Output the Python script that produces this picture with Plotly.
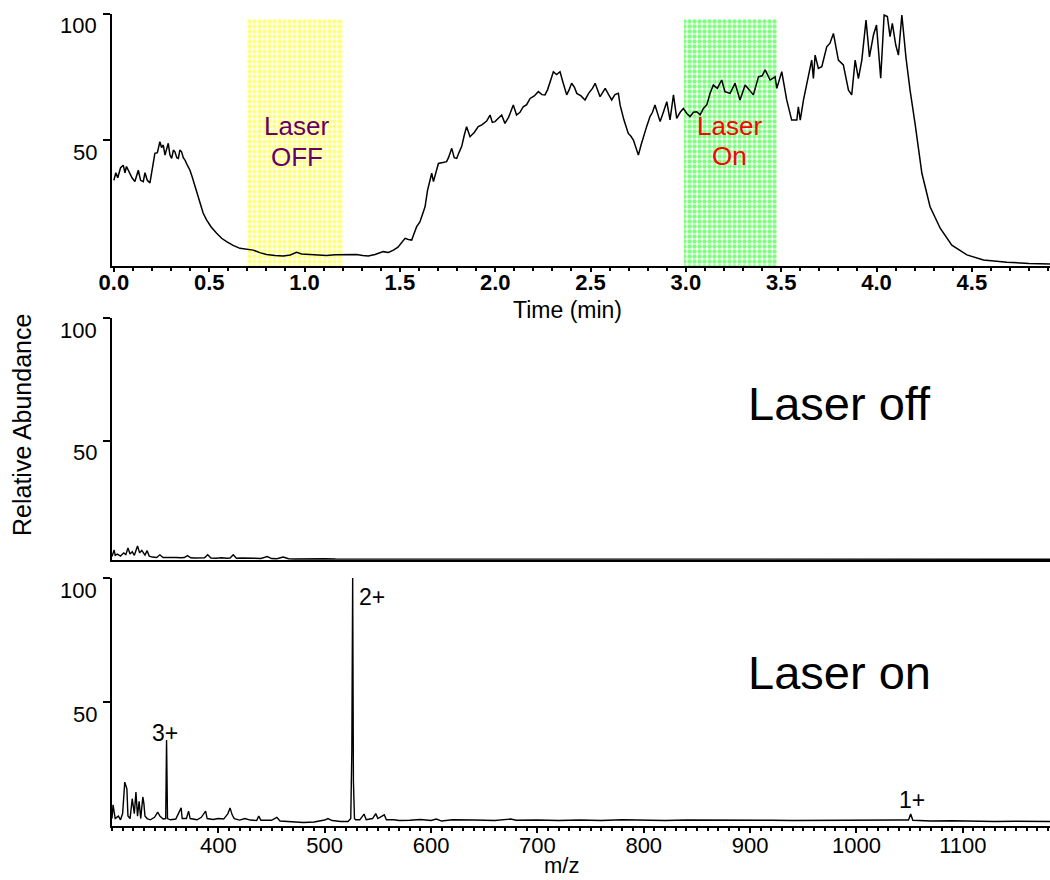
import plotly.graph_objects as go

# ---------------- data ----------------
time_min = [0.000, 0.010, 0.020, 0.035, 0.049, 0.058, 0.066, 0.080, 0.095, 0.110, 0.120, 0.128, 0.140,
            0.154, 0.163, 0.175, 0.189, 0.200, 0.215, 0.228, 0.241, 0.250, 0.259, 0.268, 0.276, 0.285,
            0.294, 0.303, 0.312, 0.320, 0.330, 0.338, 0.346, 0.355, 0.364, 0.373, 0.385, 0.399, 0.412,
            0.425, 0.438, 0.451, 0.468, 0.486, 0.510, 0.539, 0.565, 0.591, 0.625, 0.661, 0.700, 0.731,
            0.765, 0.801, 0.845, 0.888, 0.925, 0.945, 0.958, 0.985, 1.030, 1.070, 1.116, 1.160, 1.203,
            1.240, 1.273, 1.305, 1.334, 1.370, 1.395, 1.413, 1.440, 1.466, 1.490, 1.510, 1.527, 1.545,
            1.562, 1.575, 1.588, 1.605, 1.620, 1.632, 1.645, 1.658, 1.667, 1.676, 1.690, 1.702, 1.720,
            1.745, 1.755, 1.772, 1.785, 1.798, 1.810, 1.824, 1.838, 1.850, 1.868, 1.890, 1.911, 1.930,
            1.955, 1.973, 1.985, 1.999, 2.015, 2.034, 2.051, 2.070, 2.095, 2.112, 2.130, 2.147, 2.165,
            2.183, 2.205, 2.226, 2.245, 2.261, 2.275, 2.288, 2.305, 2.322, 2.340, 2.355, 2.375, 2.388,
            2.401, 2.415, 2.428, 2.450, 2.471, 2.490, 2.510, 2.524, 2.537, 2.550, 2.565, 2.577, 2.595,
            2.611, 2.628, 2.646, 2.655, 2.675, 2.698, 2.712, 2.725, 2.740, 2.751, 2.765, 2.777, 2.795,
            2.812, 2.825, 2.838, 2.852, 2.865, 2.882, 2.900, 2.917, 2.935, 2.952, 2.970, 2.987, 3.005,
            3.022, 3.040, 3.057, 3.075, 3.092, 3.110, 3.127, 3.144, 3.165, 3.188, 3.205, 3.232, 3.258,
            3.284, 3.311, 3.330, 3.354, 3.381, 3.400, 3.416, 3.442, 3.468, 3.477, 3.503, 3.529, 3.555,
            3.582, 3.590, 3.600, 3.617, 3.637, 3.660, 3.669, 3.678, 3.695, 3.713, 3.739, 3.756, 3.774,
            3.800, 3.826, 3.853, 3.870, 3.888, 3.905, 3.923, 3.945, 3.963, 3.984, 4.000, 4.022, 4.040,
            4.057, 4.071, 4.083, 4.101, 4.115, 4.133, 4.155, 4.176, 4.202, 4.238, 4.281, 4.334, 4.395,
            4.474, 4.561, 4.684, 4.800, 4.910]
tic = [34.0, 37.0, 35.0, 39.0, 40.0, 37.0, 39.5, 37.0, 35.0, 33.5, 36.0, 38.0, 34.0,
       33.5, 37.0, 34.0, 33.0, 38.0, 44.7, 45.0, 49.3, 47.0, 48.0, 44.0, 46.0, 48.7,
       44.0, 42.7, 46.0, 45.3, 43.0, 42.7, 46.0, 45.3, 43.0, 42.0, 40.0, 38.0, 35.0,
       31.5, 28.0, 24.9, 21.0, 18.3, 15.5, 13.0, 11.0, 9.7, 8.2, 7.0, 6.5, 6.3,
       5.3, 4.6, 4.2, 4.0, 4.4, 4.9, 5.4, 4.8, 4.6, 4.4, 4.2, 4.5, 4.6,
       4.8, 4.6, 4.2, 4.0, 4.6, 5.2, 5.7, 5.4, 6.3, 7.5, 9.5, 11.0, 10.5,
       10.3, 13.0, 15.6, 17.5, 21.0, 23.5, 30.0, 34.0, 36.8, 33.5, 37.0, 40.7, 41.0,
       41.4, 43.0, 46.7, 43.0, 42.7, 45.0, 47.4, 52.0, 55.3, 51.3, 53.0, 55.3, 56.0,
       57.5, 59.9, 57.0, 57.3, 58.5, 59.9, 56.6, 59.0, 63.9, 59.9, 61.0, 63.2, 64.0,
       66.5, 67.5, 69.2, 68.0, 67.9, 70.0, 73.1, 77.1, 76.0, 77.1, 73.0, 67.9, 70.0,
       72.5, 71.0, 68.5, 67.5, 65.9, 68.5, 70.5, 72.5, 70.0, 67.2, 69.0, 70.5, 68.0,
       65.9, 68.0, 68.5, 63.9, 58.0, 52.6, 51.5, 50.0, 47.0, 44.0, 48.0, 51.3, 55.5,
       59.3, 61.0, 63.9, 60.0, 57.3, 61.0, 65.2, 58.0, 67.9, 58.6, 61.0, 62.5, 60.5,
       59.3, 61.0, 61.2, 60.0, 62.5, 64.0, 68.5, 71.8, 70.5, 73.8, 69.2, 68.5, 72.5,
       65.9, 71.8, 70.0, 67.9, 75.1, 75.5, 77.8, 73.8, 75.1, 70.5, 77.1, 65.9, 57.9,
       57.9, 63.2, 57.9, 65.9, 73.1, 81.7, 74.4, 83.7, 78.4, 79.1, 87.0, 88.4, 92.3,
       81.7, 79.8, 69.8, 67.9, 81.7, 74.4, 81.7, 97.6, 83.0, 91.7, 95.6, 74.5, 99.6,
       99.0, 91.0, 96.3, 87.7, 83.7, 99.6, 82.4, 69.8, 56.6, 36.8, 23.5, 15.0, 8.3,
       4.4, 2.4, 1.5, 1.0, 0.8]

# laser windows (start, end, top) in minutes / %
laser_off_window = [0.70, 1.20, 98]
laser_on_window = [2.99, 3.48, 98]

# spectrum, laser off
mz_off = [300, 302, 303, 305, 308, 311, 313, 315, 317, 319, 321, 324, 326, 328, 331, 333, 335, 338,
          342, 345, 348, 352, 356, 360, 365, 368, 371, 374, 378, 383, 387, 390, 393, 398, 403, 408,
          411, 414, 417, 422, 428, 434, 440, 446, 450, 455, 461, 466, 472, 480, 490, 500, 510, 520,
          526, 530, 540, 550, 560, 570, 580, 590, 600, 620, 640, 660, 680, 700, 740, 780, 820, 860,
          900, 940, 980, 1020, 1060, 1100, 1140, 1182]
int_off = [3.0, 5.7, 3.5, 4.0, 3.2, 4.5, 3.8, 6.5, 4.0, 5.0, 3.5, 7.3, 4.5, 5.5, 3.6, 5.4, 3.2, 2.8,
           2.6, 3.7, 2.6, 2.5, 2.4, 2.6, 2.5, 2.6, 3.4, 2.5, 2.4, 2.6, 2.5, 3.7, 2.4, 2.3, 2.5, 2.3,
           2.4, 3.7, 2.3, 2.4, 2.2, 2.3, 2.2, 3.0, 2.2, 2.1, 2.8, 2.1, 2.0, 2.1, 2.0, 2.1, 2.0, 2.0,
           2.2, 2.0, 2.0, 1.9, 2.0, 1.9, 2.0, 1.9, 2.0, 1.9, 1.9, 1.9, 1.9, 1.9, 1.9, 1.9, 1.9, 1.9,
           1.9, 1.9, 1.9, 1.9, 1.9, 1.9, 1.9, 1.9]

# spectrum, laser on
mz_on = [300, 301, 303, 306, 308, 310, 312, 313, 314, 315, 317, 319, 321, 322.5, 324, 325.5, 327, 329,
         330, 331, 333, 336, 340, 343, 345, 348, 350.5, 351.3, 352.2, 355, 360, 365, 366, 370, 372,
         373.5, 380, 384, 388, 389.5, 395, 400, 405, 409, 411, 413, 415, 420, 425, 430, 436, 438,
         440, 450, 455, 458, 465, 470, 480, 490, 500, 503, 507, 515, 522, 524.5, 525.5, 526.3, 527,
         528, 529, 533, 537, 539, 545, 548, 550, 556, 558, 565, 570, 580, 590, 600, 605, 610, 620,
         640, 660, 675, 680, 700, 720, 740, 760, 780, 800, 820, 840, 860, 880, 900, 920, 940, 960,
         980, 1000, 1020, 1040, 1049, 1051, 1053, 1070, 1090, 1110, 1130, 1150, 1170, 1182]
int_on = [3.0, 8.5, 3.0, 4.0, 2.5, 5.0, 17.7, 16.0, 15.0, 4.0, 3.0, 11.0, 5.0, 13.7, 4.0, 10.0, 3.0, 11.7,
          9.0, 4.0, 3.0, 2.5, 3.5, 5.6, 4.0, 2.8, 3.0, 34.7, 3.0, 2.5, 2.8, 7.3, 3.0, 3.0, 6.0,
          3.0, 2.5, 3.5, 6.0, 3.0, 2.6, 3.0, 2.8, 5.0, 7.3, 4.5, 3.0, 2.4, 3.0, 2.4, 2.2, 4.0,
          2.3, 2.3, 3.5, 2.0, 1.8, 1.6, 1.4, 1.6, 2.4, 3.0, 2.2, 1.8, 1.8, 3.0, 30.0, 100.0, 18.0,
          3.0, 2.5, 2.5, 4.8, 2.5, 3.0, 5.0, 3.0, 4.5, 2.5, 2.5, 2.2, 2.3, 2.6, 2.2, 2.8, 2.0, 2.5,
          2.4, 2.2, 2.8, 2.3, 2.4, 2.2, 2.4, 2.2, 2.5, 2.3, 2.2, 2.4, 2.3, 2.2, 2.4, 2.3, 2.2, 2.3,
          2.1, 2.2, 2.3, 2.4, 2.4, 4.8, 2.3, 2.0, 2.1, 1.9, 1.8, 1.9, 1.7, 1.8]

peak_labels = ["3+", "2+", "1+"]
peak_label_mz = [349.8, 544.4, 1052]
peak_label_y = [37.5, 92.3, 10.5]

time_ticks = [0.0, 0.5, 1.0, 1.5, 2.0, 2.5, 3.0, 3.5, 4.0, 4.5]
mz_ticks = [400, 500, 600, 700, 800, 900, 1000, 1100]
y_ticks = [50, 100]

# ---------------- figure ----------------
FONT = "Liberation Sans, Arial, sans-serif"
W, H = 1050, 880
ML, MR, MT, MB = 112, 0, 10, 54
PW, PH = W - ML - MR, H - MT - MB
PLOT_BOTTOM_PAGE = H - MB    # page pixel of plot-area bottom (826)
PLOT_LEFT_PAGE = ML


def py(p):  # page pixel y -> paper y
    return (PLOT_BOTTOM_PAGE - p) / PH


def px(p):  # page pixel x -> paper x
    return (p - PLOT_LEFT_PAGE) / PW


fig = go.Figure()

for (x0, x1, top), fg in [(laser_off_window, "#ffff00"), (laser_on_window, "#00ff00")]:
    fig.add_trace(go.Bar(
        x=[(x0 + x1) / 2], y=[top], width=[x1 - x0], base=0,
        marker=dict(color="white", line=dict(width=0),
                    pattern=dict(shape=".", fgcolor=fg, bgcolor="white", size=5, solidity=0.6)),
        xaxis="x", yaxis="y", showlegend=False, hoverinfo="skip"))

fig.add_trace(go.Scatter(x=time_min, y=tic, mode="lines", line=dict(color="black", width=1.5),
                         xaxis="x", yaxis="y", showlegend=False))
fig.add_trace(go.Scatter(x=mz_off, y=int_off, mode="lines", line=dict(color="black", width=1.4),
                         xaxis="x2", yaxis="y2", showlegend=False))
fig.add_trace(go.Scatter(x=mz_on, y=int_on, mode="lines", line=dict(color="black", width=1.4),
                         xaxis="x3", yaxis="y3", showlegend=False))

axis_common = dict(showgrid=False, zeroline=False, showline=True, linecolor="black", linewidth=2,
                   ticks="outside", tickcolor="black", tickwidth=1.5)
# y tick labels are drawn as annotations (they sit slightly below their ticks in the original)
yaxis_common = dict(**axis_common, tickvals=y_ticks, ticklen=7, showticklabels=False)

fig.update_layout(
    width=W, height=H, margin=dict(l=ML, r=MR, t=MT, b=MB),
    paper_bgcolor="white", plot_bgcolor="white", barmode="overlay", bargap=0,
    font=dict(family=FONT, color="black"),
    xaxis=dict(**axis_common, domain=[0, 1], range=[-0.01, 4.91], anchor="y",
               tickvals=time_ticks, ticktext=[f"{t:.1f}" for t in time_ticks], ticklen=4,
               ticklabelstandoff=-8,
               tickfont=dict(family=FONT, size=22, color="black", weight="bold"),
               minor=dict(dtick=0.1, ticklen=3, ticks="outside", tickcolor="black", tick0=0)),
    yaxis=dict(**yaxis_common, domain=[py(266), py(14)], range=[0, 100], anchor="x"),
    xaxis2=dict(showgrid=False, zeroline=False, showline=True, linecolor="black", linewidth=2,
                domain=[0, 1], range=[300, 1182], anchor="y2", showticklabels=False, ticks=""),
    yaxis2=dict(**yaxis_common, domain=[py(560), py(318)], range=[1.6, 100], anchor="x2"),
    xaxis3=dict(**axis_common, domain=[0, 1], range=[300, 1182], anchor="y3",
                tickvals=mz_ticks, ticklen=5, ticklabelstandoff=-6,
                tickfont=dict(family=FONT, size=22, color="black"),
                minor=dict(dtick=10, ticklen=3, ticks="outside", tickcolor="black", tick0=0)),
    yaxis3=dict(**yaxis_common, domain=[py(826), py(578)], range=[0, 100], anchor="x3"),
)

ann = []


def add_text(text, x, y, xref, yref, size, color="black", angle=0, xanchor="center", yshift=0):
    ann.append(dict(text=text, x=x, y=y, xref=xref, yref=yref, showarrow=False,
                    xanchor=xanchor, yanchor="middle", textangle=angle, yshift=yshift,
                    font=dict(family=FONT, size=size, color=color)))


for yref in ["y", "y2", "y3"]:
    for v in y_ticks:
        add_text(str(v), px(99), v, "paper", yref, 22, xanchor="right", yshift=-12)

add_text("Laser", 0.96, 55.6, "x", "y", 26, "#660066")
add_text("OFF", 0.96, 43.4, "x", "y", 26, "#660066")
add_text("Laser", 3.23, 55.6, "x", "y", 26, "#ff0000")
add_text("On", 3.23, 43.8, "x", "y", 26, "#ff0000")
add_text("Laser off", 984, 65.4, "x2", "y2", 47)
add_text("Laser on", 984, 62.0, "x3", "y3", 47)
for t, xm, ym in zip(peak_labels, peak_label_mz, peak_label_y):
    add_text(t, xm, ym, "x3", "y3", 23)
add_text("Time (min)", px(567), py(310), "paper", "paper", 23)
add_text("m/z", px(561), py(865), "paper", "paper", 22)
add_text("Relative Abundance", px(22), py(425), "paper", "paper", 25, angle=-90)
fig.update_layout(annotations=ann)

# remove the browser's default 8px body margin so the figure fills the 1050x880 window exactly
fig.write_html("out.html", config={"displayModeBar": False},
               post_script="document.body.style.margin='0';document.body.style.overflow='hidden';")
